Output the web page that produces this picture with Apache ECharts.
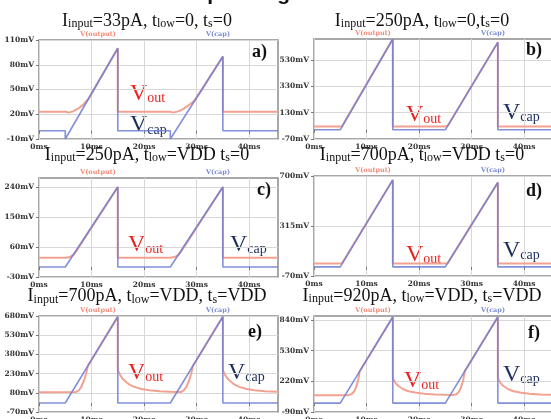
<!DOCTYPE html>
<html>
<head>
<meta charset="utf-8">
<script src="https://cdn.jsdelivr.net/npm/echarts@6/dist/echarts.min.js"></script>
<style>
html, body { margin: 0; padding: 0; background: #fff; }
#chart { width: 551px; height: 419px; }
</style>
</head>
<body>
<div id="chart"></div>
<script>
// time axis (ms)
var timeTicks = [0, 10, 20, 30, 40];
var tMax = 45.5;

// a) Iinput=33pA
var yTicksA = [-10, 20, 50, 80, 110];
var capA = [[0, 0], [5, 0], [5, -10], [15, 100], [15, 0], [25, 0], [25, -10], [35, 90], [35, 0], [45.5, 0]];
var outA = [[0, 23], [5.2, 23], [5.6, 22], [6.5, 23.5], [7.5, 27], [8.5, 32], [9.5, 39.6], [10.5, 50.5], [15, 100], [15, 23],
            [25, 23], [25.5, 22], [26.5, 23.5], [27.5, 26.5], [28.5, 31], [29.5, 36], [30.5, 45], [35, 90], [35, 23], [45.5, 23]];

// b) Iinput=250pA
var yTicksB = [-70, 130, 330, 530];
var capB = [[0, 0], [5, 0], [15, 690], [15, 0], [25, 0], [35, 665], [35, 0], [45.5, 0]];
var outB = [[0, 25], [5.3, 25], [5.5, 34.5], [15, 690], [15, 25], [25, 25], [25.3, 25], [25.5, 33], [35, 665], [35, 25], [45.5, 25]];

// c) Iinput=250pA, tlow=VDD
var yTicksC = [-30, 60, 150, 240];
var capC = [[0, 0], [5, 0], [5, -3], [15, 240], [15, 0], [25, 0], [25, -3], [35, 240], [35, 0], [45.5, 0]];
var outC = [[0, 28], [5.3, 28], [6, 31], [6.6, 37], [7.1, 47.6], [15, 240], [15, 28], [25, 28], [25.3, 28], [26, 31], [26.6, 37], [27.1, 47.6], [35, 240], [35, 28], [45.5, 28]];

// d) Iinput=700pA, tlow=VDD
var yTicksD = [-70, 315, 700];
var capD = [[0, 0], [5, 0], [15, 670], [15, 0], [25, 0], [35, 650], [35, 0], [45.5, 0]];
var outD = [[0, 26], [5.3, 26], [5.45, 30], [15, 670], [15, 26], [25, 26], [25.3, 26], [25.45, 29], [35, 650], [35, 26], [45.5, 26]];

// e) Iinput=700pA, tlow=VDD, ts=VDD
var yTicksE = [-70, 80, 230, 380, 530, 680];
var capE = [[0, 0], [5, 0], [15, 675], [15, 0], [25, 0], [35, 675], [35, 0], [45.5, 0]];
var outE = [[0, 85], [7, 86], [7.6, 100], [8.1, 130], [8.6, 180], [9, 235], [9.3, 290], [15, 675], [15, 255], [15.5, 215], [16, 185],
            [17, 150], [18, 128], [19.5, 110], [21, 100], [23, 92], [25, 88], [27, 86], [27.6, 100], [28.1, 130], [28.6, 180],
            [29, 235], [29.3, 290], [35, 675], [35, 255], [35.5, 215], [36, 185], [37, 150], [38, 128], [39.5, 110], [41, 100],
            [43, 92], [45.5, 88]];

// f) Iinput=920pA, tlow=VDD, ts=VDD
var yTicksF = [-90, 220, 530, 840];
var capF = [[0, 0], [5, 0], [15, 870], [15, 0], [25, 0], [35, 870], [35, 0], [45.5, 0]];
var outF = [[0, 80], [6.6, 80], [7.1, 90], [7.6, 115], [8, 160], [8.4, 230], [8.7, 322], [15, 870], [15, 250], [15.5, 205], [16, 175],
            [17, 140], [18, 120], [19.5, 105], [21, 95], [23, 88], [25, 84], [26.6, 82], [27.1, 90], [27.6, 115], [28, 160],
            [28.4, 230], [28.7, 322], [35, 870], [35, 250], [35.5, 205], [36, 175], [37, 140], [38, 120], [39.5, 105], [41, 95],
            [43, 88], [45.5, 85]];

var titles = [
	'{m|I}{s|input}{m|=33pA, t}{s|low}{m|=0, t}{s|s}{m|=0}',
	'{m|I}{s|input}{m|=250pA, t}{s|low}{m|=0,t}{s|s}{m|=0}',
	'{m|I}{s|input}{m|=250pA, t}{s|low}{m|=VDD t}{s|s}{m|=0}',
	'{m|I}{s|input}{m|=700pA, t}{s|low}{m|=VDD t}{s|s}{m|=0}',
	'{m|I}{s|input}{m|=700pA, t}{s|low}{m|=VDD, t}{s|s}{m|=VDD}',
	'{m|I}{s|input}{m|=920pA, t}{s|low}{m|=VDD, t}{s|s}{m|=VDD}'
];
var tags = ['a)', 'b)', 'c)', 'd)', 'e)', 'f)'];

// layout of each small plot
var panels = [
	{ cap: capA, out: outA, ticks: yTicksA, min: -10, max: 110, box: [39, 40, 239, 99], title: [147, 21], tag: [252, 52], vout: [130, 93.5], vcap: [130, 125] },
	{ cap: capB, out: outB, ticks: yTicksB, min: -70, max: 690, box: [314, 39, 239, 100], title: [422, 21], tag: [526, 50], vout: [406, 114.5], vcap: [503, 112.5] },
	{ cap: capC, out: outC, ticks: yTicksC, min: -30, max: 267, box: [39, 178, 239, 99], title: [147, 155], tag: [257, 190], vout: [128, 244.5], vcap: [230, 244.5] },
	{ cap: capD, out: outD, ticks: yTicksD, min: -70, max: 700, box: [314, 176, 239, 100], title: [422, 155], tag: [526, 191], vout: [406, 254.5], vcap: [503, 250.5] },
	{ cap: capE, out: outE, ticks: yTicksE, min: -70, max: 680, box: [39, 316, 239, 96], title: [147, 296.5], tag: [248, 332], vout: [128, 372.5], vcap: [228, 372.5] },
	{ cap: capF, out: outF, ticks: yTicksF, min: -90, max: 880, box: [314, 316, 239, 96], title: [422, 296], tag: [528, 333], vout: [404, 380.5], vcap: [503, 374.5] }
];

var tickFont = { fontFamily: 'DejaVu Serif', fontWeight: 'bold', fontSize: 7.5, color: '#333' };
var serif = 'Liberation Serif';

var grids = [], xAxes = [], yAxes = [], series = [], graphics = [];

panels.forEach(function (p, i) {
	grids.push({
		left: p.box[0], top: p.box[1], width: p.box[2], height: p.box[3],
		outerBoundsMode: 'none', containLabel: false,
		show: true, borderColor: '#8c8c8c', borderWidth: 1.5
	});
	xAxes.push({
		gridIndex: i, type: 'value', min: 0, max: tMax, interval: 10,
		axisLine: { show: false },
		axisTick: { customValues: timeTicks, length: 3, lineStyle: { color: '#777' } },
		axisLabel: Object.assign({ customValues: timeTicks, formatter: '{value}ms', margin: 4 }, tickFont),
		splitLine: { show: true, lineStyle: { color: '#d8d8d8', width: 1 } }
	});
	yAxes.push({
		gridIndex: i, type: 'value', min: p.min, max: p.max,
		axisLine: { show: false },
		axisTick: { customValues: p.ticks, length: 3, lineStyle: { color: '#777' } },
		axisLabel: Object.assign({ customValues: p.ticks, formatter: '{value}mV', margin: 5 }, tickFont),
		splitLine: { show: true, lineStyle: { color: '#d8d8d8', width: 1 } }
	});
	series.push({
		name: 'V(output)', type: 'line', xAxisIndex: i, yAxisIndex: i, data: p.out,
		showSymbol: false, lineStyle: { color: '#f3a190', width: 2 }, z: 2
	});
	series.push({
		name: 'V(cap)', type: 'line', xAxisIndex: i, yAxisIndex: i, data: p.cap,
		showSymbol: false, lineStyle: { color: '#6c7dd4', width: 1.6, opacity: 0.85 }, z: 3
	});

	// trace names above the plot
	graphics.push({ type: 'text', x: p.box[0] + 59, y: p.box[1] - 6, style: {
		text: 'V(output)', fill: '#f08a78', font: 'bold 6.5px "DejaVu Serif"', align: 'center', verticalAlign: 'middle' } });
	graphics.push({ type: 'text', x: p.box[0] + 179, y: p.box[1] - 6, style: {
		text: 'V(cap)', fill: '#7c8ad8', font: 'bold 6.5px "DejaVu Serif"', align: 'center', verticalAlign: 'middle' } });

	graphics.push({ type: 'text', x: p.title[0], y: p.title[1], style: {
		text: titles[i], align: 'center', verticalAlign: 'middle', fill: '#111',
		rich: {
			m: { fontFamily: serif, fontSize: 18, lineHeight: 18, fill: '#111' },
			s: { fontFamily: serif, fontSize: 12, lineHeight: 8, verticalAlign: 'bottom', fill: '#111' }
		}
	} });
	graphics.push({ type: 'text', x: p.tag[0], y: p.tag[1], z: 10, style: {
		text: tags[i], align: 'left', verticalAlign: 'middle', fill: '#111',
		font: 'bold 18px "Liberation Serif"' } });
	graphics.push({ type: 'text', x: p.vout[0], y: p.vout[1], style: {
		text: '{v|V}{o|out}', align: 'left', verticalAlign: 'middle',
		rich: {
			v: { fontFamily: serif, fontSize: 24, lineHeight: 24, fill: '#e8231f' },
			o: { fontFamily: serif, fontSize: 14, lineHeight: 14, verticalAlign: 'bottom', fill: '#e8231f' }
		}
	} });
	graphics.push({ type: 'text', x: p.vcap[0], y: p.vcap[1], style: {
		text: '{v|V}{o|cap}', align: 'left', verticalAlign: 'middle',
		rich: {
			v: { fontFamily: serif, fontSize: 24, lineHeight: 24, fill: '#1b2d5c' },
			o: { fontFamily: serif, fontSize: 14, lineHeight: 14, verticalAlign: 'bottom', fill: '#1b2d5c' }
		}
	} });
});

// heading cut off at the top of the picture
graphics.push({ type: 'text', x: 143, y: -6, style: {
	text: 'corresponding connections', fill: '#111', font: 'bold 21px "Liberation Sans"',
	align: 'left', verticalAlign: 'middle' } });

var myChart = echarts.init(document.getElementById('chart'), null, { renderer: 'canvas' });
myChart.setOption({
	animation: false,
	backgroundColor: '#fff',
	grid: grids,
	xAxis: xAxes,
	yAxis: yAxes,
	series: series,
	graphic: graphics
});
</script>
</body>
</html>
